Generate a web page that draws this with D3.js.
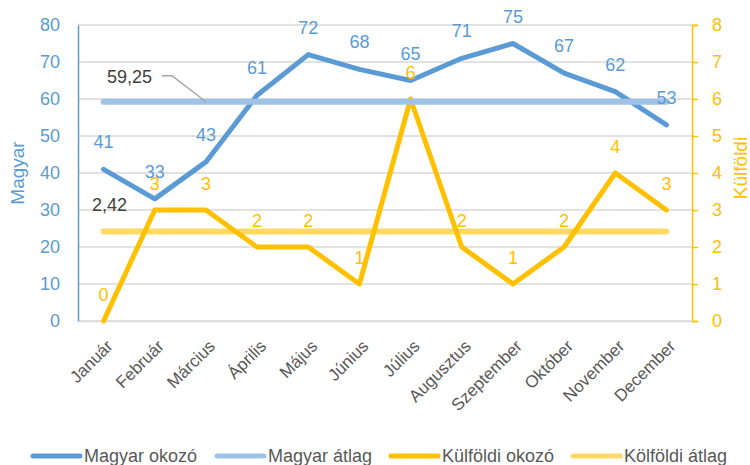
<!DOCTYPE html>
<html>
<head>
<meta charset="utf-8">
<script src="https://cdn.jsdelivr.net/npm/d3@7"></script>
<style>
  body { margin: 0; background: #fff; }
  text { font-family: "Liberation Sans", Arial, sans-serif; }
</style>
</head>
<body>
<div id="chart"></div>
<script>
// months and values
const months = ['Január', 'Február', 'Március', 'Április', 'Május', 'Június', 'Július',
  'Augusztus', 'Szeptember', 'Október', 'November', 'December'];
const magyar = [41, 33, 43, 61, 72, 68, 65, 71, 75, 67, 62, 53];
const kulfoldi = [0, 3, 3, 2, 2, 1, 6, 2, 1, 2, 4, 3];
const magyarAvg = 59.25;
const kulfoldiAvg = 2.42;
const leftTicks = [0, 10, 20, 30, 40, 50, 60, 70, 80];
const rightTicks = [0, 1, 2, 3, 4, 5, 6, 7, 8];
const legendNames = ['Magyar okozó', 'Magyar átlag', 'Külföldi okozó', 'Kölföldi átlag'];

const width = 750, height = 465;
const margin = { top: 25, right: 58, bottom: 144, left: 78 };
const blue = '#5b9bd5', lightBlue = '#9dc3e6', gold = '#ffc000', lightGold = '#ffd966';

const svg = d3.select('#chart').append('svg')
  .attr('width', width)
  .attr('height', height);

const x = d3.scaleBand().domain(months)
  .range([margin.left, width - margin.right]);
const cx = d => x(d) + x.bandwidth() / 2;
const yL = d3.scaleLinear().domain([0, 80]).range([height - margin.bottom, margin.top]);
const yR = d3.scaleLinear().domain([0, 8]).range([height - margin.bottom, margin.top]);

// gridlines
svg.append('g')
  .selectAll('line').data(leftTicks).join('line')
  .attr('x1', margin.left).attr('x2', width - margin.right)
  .attr('y1', d => yL(d)).attr('y2', d => yL(d))
  .attr('stroke', '#d9d9d9').attr('stroke-width', 1.5);

// left axis
const left = svg.append('g')
  .attr('transform', `translate(${margin.left},0)`)
  .call(d3.axisLeft(yL).tickValues(leftTicks).tickSize(0).tickPadding(18));
left.select('.domain').attr('stroke', blue).attr('stroke-width', 1.5);
left.selectAll('text').attr('fill', blue).style('font-size', '18px');

// right axis
const right = svg.append('g')
  .attr('transform', `translate(${width - margin.right},0)`)
  .call(d3.axisRight(yR).tickValues(rightTicks).tickSize(6).tickSizeOuter(6).tickPadding(14));
right.select('.domain').attr('stroke', gold).attr('stroke-width', 1.5);
right.selectAll('line').attr('stroke', gold).attr('stroke-width', 1.5);
right.selectAll('text').attr('fill', gold).style('font-size', '18px');

// bottom axis
const bottom = svg.append('g')
  .attr('transform', `translate(0,${height - margin.bottom})`)
  .call(d3.axisBottom(x).tickSize(0).tickPadding(0));
bottom.select('.domain').attr('stroke', '#d9d9d9').attr('stroke-width', 1.5);
bottom.selectAll('text')
  .attr('fill', '#595959')
  .style('font-size', '17px')
  .attr('text-anchor', 'end')
  .attr('dy', '0.35em')
  .attr('transform', 'translate(6,22) rotate(-45)');

// axis titles
svg.append('text')
  .attr('transform', `translate(24,${(margin.top + height - margin.bottom) / 2}) rotate(-90)`)
  .attr('text-anchor', 'middle')
  .attr('fill', blue).style('font-size', '19px')
  .text('Magyar');
svg.append('text')
  .attr('transform', `translate(747,${(margin.top + height - margin.bottom) / 2 - 5}) rotate(-90)`)
  .attr('text-anchor', 'middle')
  .attr('fill', gold).style('font-size', '19px')
  .text('Külföldi');

// average lines
const first = months[0], last = months[months.length - 1];
svg.append('line')
  .attr('x1', cx(first)).attr('x2', cx(last))
  .attr('y1', yR(kulfoldiAvg)).attr('y2', yR(kulfoldiAvg))
  .attr('stroke', lightGold).attr('stroke-width', 6).attr('stroke-linecap', 'round');

// series lines
const lineL = d3.line().x((d, i) => cx(months[i])).y(d => yL(d));
const lineR = d3.line().x((d, i) => cx(months[i])).y(d => yR(d));

svg.append('path').datum(kulfoldi)
  .attr('d', lineR).attr('fill', 'none')
  .attr('stroke', gold).attr('stroke-width', 5)
  .attr('stroke-linejoin', 'round').attr('stroke-linecap', 'round');

svg.append('path').datum(magyar)
  .attr('d', lineL).attr('fill', 'none')
  .attr('stroke', blue).attr('stroke-width', 5)
  .attr('stroke-linejoin', 'round').attr('stroke-linecap', 'round');

svg.append('line')
  .attr('x1', cx(first)).attr('x2', cx(last))
  .attr('y1', yL(magyarAvg)).attr('y2', yL(magyarAvg))
  .attr('stroke', lightBlue).attr('stroke-width', 6).attr('stroke-linecap', 'round');

// data labels
svg.append('g')
  .selectAll('text').data(kulfoldi).join('text')
  .attr('x', (d, i) => cx(months[i]))
  .attr('y', d => yR(d) - 20)
  .attr('text-anchor', 'middle')
  .attr('fill', gold).style('font-size', '18px')
  .text(d => d);

svg.append('g')
  .selectAll('text').data(magyar).join('text')
  .attr('x', (d, i) => cx(months[i]))
  .attr('y', d => yL(d) - 21)
  .attr('text-anchor', 'middle')
  .attr('fill', blue).style('font-size', '18px')
  .text(d => d);

// average labels
const fmt = v => String(v).replace('.', ',');
svg.append('path')
  .attr('d', `M162,${yL(magyarAvg) - 26}H172L${cx(months[2])},${yL(magyarAvg)}`)
  .attr('fill', 'none').attr('stroke', '#a6a6a6').attr('stroke-width', 1.5);
svg.append('text')
  .attr('x', 107).attr('y', yL(magyarAvg) - 19)
  .attr('fill', '#404040').style('font-size', '18px')
  .text(fmt(magyarAvg));
svg.append('text')
  .attr('x', 92).attr('y', yR(kulfoldiAvg) - 20)
  .attr('fill', '#404040').style('font-size', '18px')
  .text(fmt(kulfoldiAvg));

// legend
const legendX = [33, 217, 391, 573];
const legendColors = [blue, lightBlue, gold, lightGold];
const legend = svg.append('g')
  .selectAll('g').data(legendNames).join('g')
  .attr('transform', (d, i) => `translate(${legendX[i]},456)`);
legend.append('line')
  .attr('x1', 0).attr('x2', 47)
  .attr('stroke', (d, i) => legendColors[i]).attr('stroke-width', 5)
  .attr('stroke-linecap', 'round');
legend.append('text')
  .attr('x', 51).attr('dy', '0.35em')
  .attr('fill', '#595959').style('font-size', '18px')
  .text(d => d);
</script>
</body>
</html>
